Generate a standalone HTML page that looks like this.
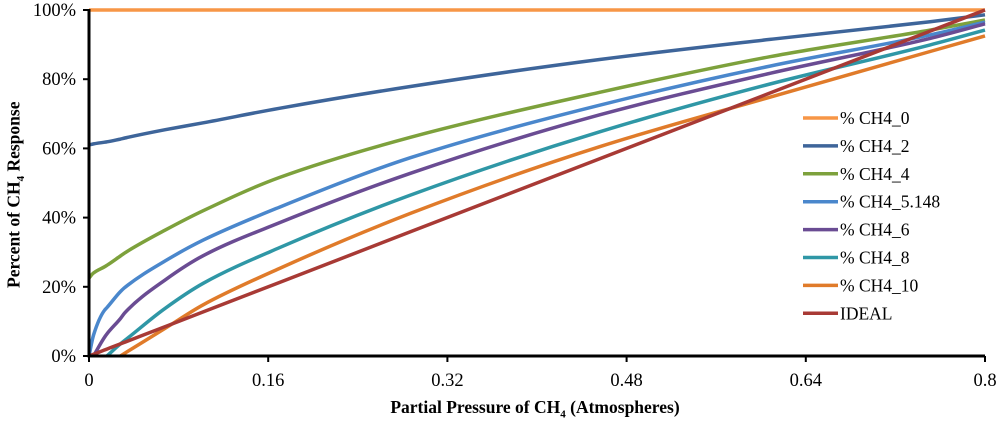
<!DOCTYPE html>
<html><head><meta charset="utf-8"><style>
html,body{margin:0;padding:0;background:#fff;}
svg text{font-family:"Liberation Serif",serif;}
</style></head><body>
<svg id="c" width="1000" height="423" xmlns="http://www.w3.org/2000/svg"></svg>
<script>
const xs = [0,0.004,0.014,0.016,0.028,0.032,0.068,0.102,0.17,0.287,0.456,0.608,0.751,0.8];
const seriesNames = ["% CH4_0","% CH4_2","% CH4_4","% CH4_5.148","% CH4_6","% CH4_8","% CH4_10","IDEAL"];
const colors = ["#f79646","#3e659a","#7da13c","#4a87cc","#6a4c93","#2f97a6","#e07b2a","#a83a35"];
const s0 = [100,100,100,100,100,100,100,100,100,100,100,100,100,100];
const s2 = [61,61.3,61.8,61.9,62.7,63.0,65.4,67.4,71.6,77.9,85.7,91.5,96.6,98.6];
const s4 = [22.5,24,25.8,26.2,28.9,29.8,36.4,42,51.6,63.2,76.2,86.5,94.2,97.1];
const s5 = [0,6,13.3,14,18.6,19.8,27.5,33.5,43,57.3,72.5,83.8,92.8,96.5];
const s6 = [null,0,5.5,6.4,10.8,12.5,22,29,38.5,52.8,69.7,81.7,91.8,96];
const s8 = [null,null,null,0,3.5,4.5,13.8,21,31.3,46.5,64.8,78.6,89.9,94.2];
const s10 = [null,null,null,null,0,0.8,8,14.8,25.3,41.2,60.5,74.8,88,92.5];
const sI = [0,0.5,1.75,2,3.5,4,8.5,12.75,21.25,35.9,57,76,93.9,100];
const series=[s0,s2,s4,s5,s6,s8,s10,sI];
const xTicks=[0,0.16,0.32,0.48,0.64,0.8];
const xTickLabels=["0","0.16","0.32","0.48","0.64","0.8"];
const yTicks=[0,20,40,60,80,100];
const X0=89,X1=985,Y0=356,Y1=10;
const sx=v=>X0+(v/0.8)*(X1-X0);
const sy=v=>Y0-(v/100)*(Y0-Y1);
const svg=document.getElementById('c');
const NS="http://www.w3.org/2000/svg";
function mk(t,a,p){const e=document.createElementNS(NS,t);for(const k in a)e.setAttribute(k,a[k]);(p||svg).appendChild(e);return e;}
function monotone(pts){
  const n=pts.length;
  if(n<2)return "";
  const dx=[],m=[];
  for(let i=0;i<n-1;i++){dx.push(pts[i+1][0]-pts[i][0]);m.push((pts[i+1][1]-pts[i][1])/dx[i]);}
  const t=new Array(n);
  t[0]=m[0];t[n-1]=m[n-2];
  for(let i=1;i<n-1;i++){
    if(m[i-1]*m[i]<=0)t[i]=0;
    else{const w1=2*dx[i]+dx[i-1],w2=dx[i]+2*dx[i-1];t[i]=(w1+w2)/(w1/m[i-1]+w2/m[i]);}
  }
  let d="M"+pts[0][0].toFixed(1)+","+pts[0][1].toFixed(1);
  for(let i=0;i<n-1;i++){
    const h=dx[i]/3;
    d+="C"+(pts[i][0]+h).toFixed(1)+","+(pts[i][1]+t[i]*h).toFixed(1)+" "+(pts[i+1][0]-h).toFixed(1)+","+(pts[i+1][1]-t[i+1]*h).toFixed(1)+" "+pts[i+1][0].toFixed(1)+","+pts[i+1][1].toFixed(1);
  }
  return d;
}
series.forEach((s,i)=>{
  const pts=[];xs.forEach((x,j)=>{if(s[j]!=null)pts.push([sx(x),sy(s[j])]);});
  const p=mk('path',{d:monotone(pts),fill:'none',stroke:colors[i],'stroke-width':3.5,'stroke-linejoin':'round'});
  
  
});
const ax=mk('path',{d:`M${X0},${Y1-1}V${Y0}H${X1}`,fill:'none',stroke:'#000','stroke-width':3});


yTicks.forEach(v=>{
  mk('line',{x1:X0-6,x2:X0,y1:sy(v),y2:sy(v),stroke:'#000','stroke-width':2});
  const t=mk('text',{x:X0-13,y:sy(v)+6,'text-anchor':'end','font-size':18.5});t.textContent=v+"%";
  
  
});
xTicks.forEach((v,i)=>{
  mk('line',{x1:sx(v),x2:sx(v),y1:Y0,y2:Y0+6,stroke:'#000','stroke-width':2});
  const t=mk('text',{x:sx(v),y:Y0+30,'text-anchor':'middle','font-size':18.5});t.textContent=xTickLabels[i];
  
  
});
seriesNames.forEach((n,i)=>{
  const y=118+i*27.9;
  const g=mk('g',{});
  
  
  mk('line',{x1:803,x2:838,y1:y,y2:y,stroke:colors[i],'stroke-width':3.5},g);
  const t=mk('text',{x:840,y:y+6,'font-size':17.5},g);t.textContent=n;
});
</script>
<div style="position:absolute;left:0;top:0;width:1000px;height:423px;pointer-events:none;font-family:'Liberation Serif',serif;font-weight:bold;">
  <div style="position:absolute;left:0;width:1000px;top:397px;text-align:center;font-size:17.5px;padding-left:70px;box-sizing:border-box;">Partial Pressure of CH<sub style="font-size:11px">4</sub> (Atmospheres)</div>
  <div style="position:absolute;left:15px;top:183px;width:300px;margin-left:-150px;text-align:center;font-size:17.5px;transform:rotate(-90deg);white-space:nowrap;">Percent of CH<sub style="font-size:11px">4</sub> Response</div>
</div>
</body></html>
